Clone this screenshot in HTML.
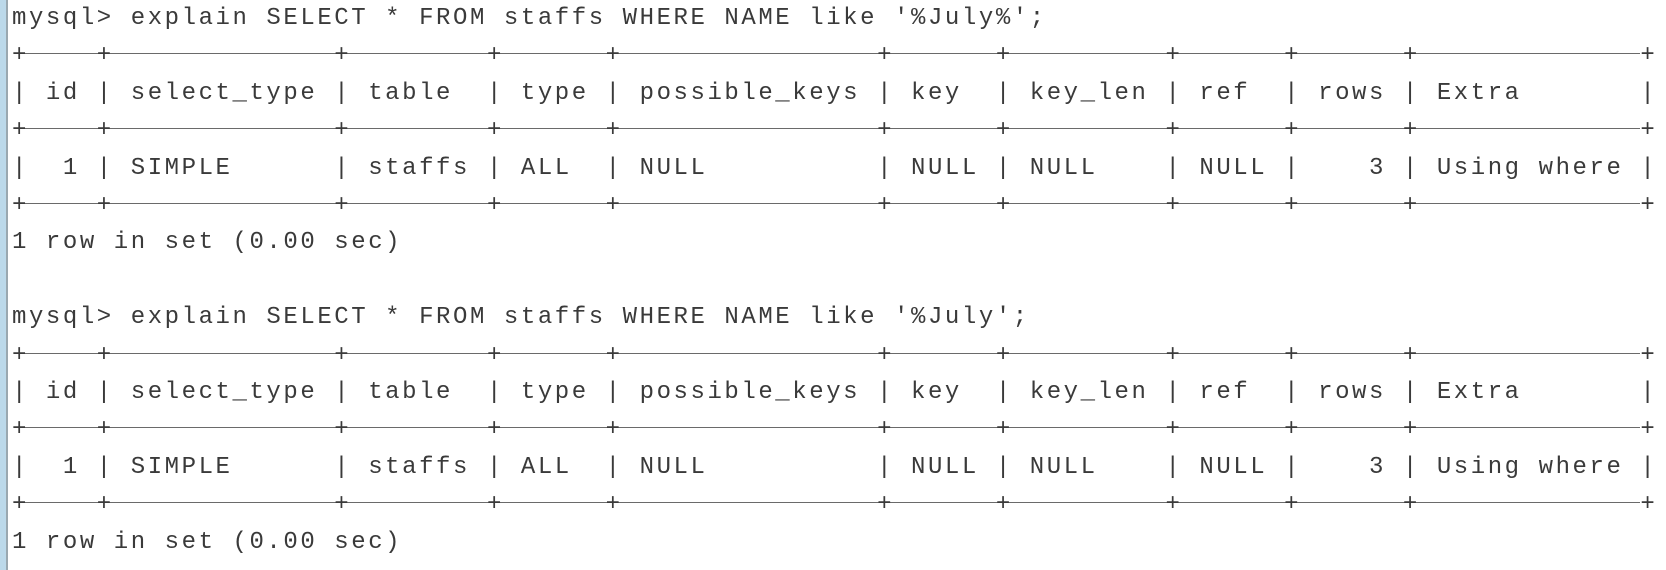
<!DOCTYPE html>
<html><head><meta charset="utf-8"><style>
body{margin:0;width:1666px;height:570px;background:#fff;position:relative;overflow:hidden}
.bar{position:absolute;left:0;top:0;width:6px;height:570px;background:#bcd9ea}
.bar2{position:absolute;left:6px;top:0;width:2px;height:570px;background:#9aa8b0}
.l{position:absolute;left:12px;font-family:"Liberation Mono",monospace;font-size:24px;letter-spacing:2.56px;color:#3a3a3a;white-space:pre;line-height:34px;height:34px}
.s{position:absolute;left:20px;width:1620px;height:1px;background:#6a6a6a}
</style></head><body>
<div class="bar"></div><div class="bar2"></div>
<div class="l" style="top:2px">mysql&gt; explain SELECT * FROM staffs WHERE NAME like '%July%';</div>
<div class="s" style="top:53px"></div>
<div class="l" style="top:39px">+    +             +        +      +               +      +         +      +      +             +</div>
<div class="l" style="top:77px">| id | select_type | table  | type | possible_keys | key  | key_len | ref  | rows | Extra       |</div>
<div class="s" style="top:128px"></div>
<div class="l" style="top:114px">+    +             +        +      +               +      +         +      +      +             +</div>
<div class="l" style="top:152px">|  1 | SIMPLE      | staffs | ALL  | NULL          | NULL | NULL    | NULL |    3 | Using where |</div>
<div class="s" style="top:203px"></div>
<div class="l" style="top:189px">+    +             +        +      +               +      +         +      +      +             +</div>
<div class="l" style="top:226px">1 row in set (0.00 sec)</div>
<div class="l" style="top:301px">mysql&gt; explain SELECT * FROM staffs WHERE NAME like '%July';</div>
<div class="s" style="top:353px"></div>
<div class="l" style="top:339px">+    +             +        +      +               +      +         +      +      +             +</div>
<div class="l" style="top:376px">| id | select_type | table  | type | possible_keys | key  | key_len | ref  | rows | Extra       |</div>
<div class="s" style="top:427px"></div>
<div class="l" style="top:413px">+    +             +        +      +               +      +         +      +      +             +</div>
<div class="l" style="top:451px">|  1 | SIMPLE      | staffs | ALL  | NULL          | NULL | NULL    | NULL |    3 | Using where |</div>
<div class="s" style="top:502px"></div>
<div class="l" style="top:488px">+    +             +        +      +               +      +         +      +      +             +</div>
<div class="l" style="top:526px">1 row in set (0.00 sec)</div>
</body></html>
